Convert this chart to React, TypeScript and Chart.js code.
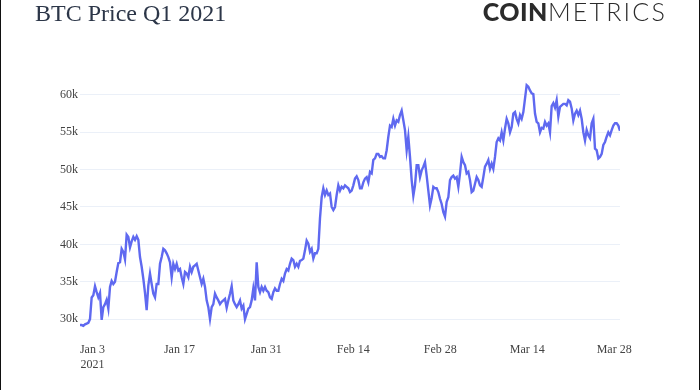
import { useEffect, useRef } from "react";
import { Chart, registerables } from "chart.js";

Chart.register(...registerables);

// Sampling step between readings (hours), starting Jan 1 2021 00:00
const sampleStepHours = 6.44;

// BTC price in thousands USD, Jan 1 -> mid Feb
const pricesJanFeb = [
  29.2, 29.2, 29.1, 29.3, 29.4, 29.5, 30.0, 32.9, 33.2, 34.4,
  33.6, 32.9, 33.5, 29.9, 31.6, 32.0, 32.6, 31.4, 34.3, 35.1,
  34.7, 35.0, 36.3, 37.5, 37.6, 39.4, 39.0, 38.0, 41.3, 41.0,
  39.6, 40.4, 41.0, 40.6, 41.1, 40.6, 38.3, 37.0, 35.4, 33.5,
  31.2, 34.5, 36.1, 34.7, 33.4, 32.9, 34.7, 34.7, 37.4, 38.3,
  39.4, 39.2, 38.8, 38.3, 37.6, 35.6, 37.4, 36.7, 37.4, 36.5,
  36.7, 35.6, 34.7, 36.3, 36.1, 35.6, 37.0, 36.3, 37.0, 37.2,
  37.4, 36.5, 35.6, 34.7, 35.4, 34.3, 32.5, 31.6, 30.0, 31.6,
  32.0, 33.4, 32.9, 32.5, 32.0, 32.3, 32.5, 32.7, 31.5, 32.5,
  33.4, 34.4, 32.5, 32.0, 31.6, 32.0, 32.5, 31.4, 31.8, 30.0,
  30.7, 31.4, 31.6, 32.5, 34.1, 32.5, 37.6, 34.3, 33.6, 34.3,
  33.8, 34.3, 33.8, 33.6, 32.9, 32.7, 33.6, 34.1, 33.8, 33.8,
  34.7, 35.4, 35.1, 36.1, 36.7, 36.5, 37.4, 38.1, 37.9, 37.0,
  37.4, 37.0, 37.8, 37.9, 38.1, 39.2, 40.5, 40.1, 39.0, 39.4,
  38.1, 38.8, 38.8, 39.4, 43.5, 46.3, 47.5, 46.6, 47.2, 46.6,
];

// BTC price in thousands USD, mid Feb -> Mar 28
const pricesFebMar = [
  46.8, 45.0, 44.6, 45.0, 46.6, 47.9, 47.2, 47.7, 47.5, 47.9,
  47.7, 47.5, 47.0, 47.2, 47.9, 48.8, 49.1, 48.6, 47.5, 47.5,
  48.3, 48.8, 49.0, 48.3, 49.7, 49.5, 51.3, 51.5, 52.1, 52.1,
  51.7, 51.8, 51.5, 51.5, 52.6, 54.4, 55.9, 55.7, 56.8, 55.9,
  56.6, 56.4, 57.3, 57.9, 56.6, 55.3, 52.6, 54.4, 51.7, 48.6,
  46.5, 47.9, 50.6, 50.6, 49.0, 49.9, 50.4, 51.0, 49.2, 47.2,
  45.2, 46.2, 47.7, 47.5, 47.5, 47.0, 46.1, 45.4, 44.3, 43.7,
  45.7, 46.3, 48.6, 49.0, 49.2, 48.8, 49.0, 47.7, 49.5, 51.7,
  51.0, 50.6, 49.5, 49.7, 48.6, 47.0, 47.2, 48.1, 49.0, 48.6,
  47.9, 47.7, 49.0, 50.4, 50.8, 51.3, 50.1, 50.8, 50.1, 51.7,
  53.7, 54.2, 53.9, 55.0, 53.9, 55.5, 56.8, 56.2, 55.0, 55.7,
  57.5, 57.7, 56.8, 56.2, 57.3, 56.8, 57.7, 59.5, 61.3, 61.1,
  60.6, 60.2, 60.1, 57.5, 56.4, 56.2, 55.0, 55.6, 55.5, 56.4,
  55.9, 56.2, 55.0, 58.5, 58.9, 58.3, 59.3, 57.1, 58.4, 58.6,
  58.8, 58.8, 58.6, 59.3, 59.1, 58.2, 56.6, 57.5, 57.9, 57.3,
  57.9, 56.8, 55.0, 53.9, 55.3, 54.6, 54.2, 56.2, 56.8, 52.8,
  52.6, 51.5, 51.7, 52.1, 53.3, 53.7, 54.4, 55.0, 54.6, 55.3,
  55.9, 56.2, 56.2, 55.9, 55.2,
];

// X ticks: days since Jan 1 2021
const tickDays = [2, 16, 30, 44, 58, 72, 86];
const tickLabels: (string | string[])[] = [
  ["Jan 3", "2021"],
  "Jan 17",
  "Jan 31",
  "Feb 14",
  "Feb 28",
  "Mar 14",
  "Mar 28",
];
const yTicksK = [30, 35, 40, 45, 50, 55, 60];

const serif = "'Liberation Serif', 'Times New Roman', Times, serif";

export default function App() {
  const ref = useRef<HTMLCanvasElement>(null);

  useEffect(() => {
    document.body.style.margin = "0";
    const prices = [...pricesJanFeb, ...pricesFebMar];
    const points = prices.map((p, i) => ({ x: (i * sampleStepHours) / 24, y: p }));
    const lastX = points[points.length - 1].x;

    const chart = new Chart(ref.current as HTMLCanvasElement, {
      type: "line",
      data: {
        datasets: [
          {
            data: points,
            borderColor: "#5f69f0",
            borderWidth: 2.4,
            pointRadius: 0,
            tension: 0,
            fill: false,
          },
        ],
      },
      options: {
        animation: false,
        responsive: false,
        layout: { padding: { top: 76, right: 80, left: 0, bottom: 0 } },
        plugins: { legend: { display: false }, tooltip: { enabled: false } },
        scales: {
          x: {
            type: "linear",
            min: 0,
            max: lastX,
            grid: { display: false, drawTicks: false },
            border: { display: false },
            afterBuildTicks: (s: any) => {
              s.ticks = tickDays.map((v) => ({ value: v }));
            },
            afterFit: (s: any) => {
              s.height = 55;
            },
            ticks: {
              autoSkip: false,
              maxRotation: 0,
              padding: 7,
              color: "#444",
              font: { family: serif, size: 12, lineHeight: 1.25 },
              callback: (v: any) => {
                const i = tickDays.indexOf(Number(v));
                return i >= 0 ? tickLabels[i] : "";
              },
            },
          },
          y: {
            type: "linear",
            min: 27.87,
            max: 62.53,
            grid: { color: "#ebf0f8", lineWidth: 1, drawTicks: false },
            border: { display: false },
            afterBuildTicks: (s: any) => {
              s.ticks = yTicksK.map((v) => ({ value: v }));
            },
            afterFit: (s: any) => {
              s.width = 80;
            },
            ticks: {
              padding: 2,
              color: "#444",
              font: { family: serif, size: 12 },
              callback: (v: any) => `${v}k`,
            },
          },
        },
      },
    });
    return () => chart.destroy();
  }, []);

  return (
    <div
      style={{
        position: "relative",
        width: 700,
        height: 390,
        background: "#fff",
        overflow: "hidden",
      }}
    >
      <canvas
        ref={ref}
        width={700}
        height={390}
        style={{ position: "absolute", left: 0, top: 0, width: 700, height: 390 }}
      />
      <div
        style={{
          position: "absolute",
          left: 35,
          top: 1,
          fontFamily: serif,
          fontSize: 24,
          lineHeight: "24px",
          color: "#2c3648",
          whiteSpace: "nowrap",
        }}
      >
        BTC Price Q1 2021
      </div>
      <div
        style={{
          position: "absolute",
          right: 33,
          top: -1,
          fontFamily: "Lato, 'Open Sans', sans-serif",
          fontSize: 25,
          lineHeight: "24px",
          color: "#2b2b2b",
          whiteSpace: "nowrap",
        }}
      >
        <span style={{ fontWeight: 900, letterSpacing: 0.5 }}>COIN</span>
        <span style={{ fontWeight: 300, letterSpacing: 2.2 }}>METRICS</span>
      </div>
      <div style={{ position: "absolute", left: 0, top: 0, width: 1, height: 390, background: "#111" }} />
      <div style={{ position: "absolute", left: 699, top: 0, width: 1, height: 390, background: "#111" }} />
    </div>
  );
}
